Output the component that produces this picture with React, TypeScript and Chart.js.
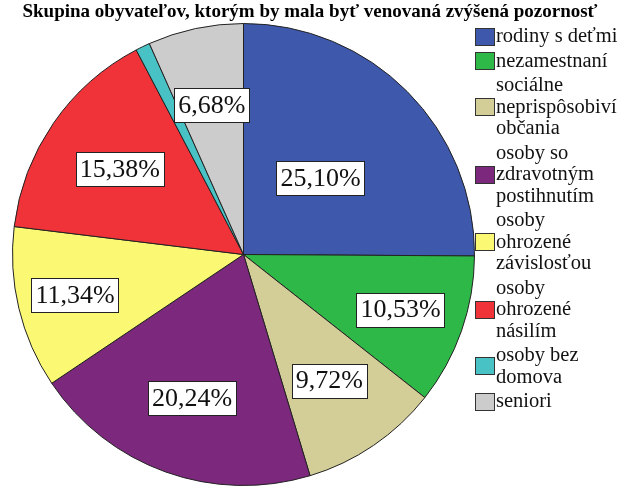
import React, { useEffect, useRef } from "react";
import { Chart, registerables } from "chart.js";

Chart.register(...registerables);

const TITLE = "Skupina obyvateľov, ktorým by mala byť venovaná zvýšená pozornosť";

const categories: string[][] = [
  ["rodiny s deťmi"],
  ["nezamestnaní"],
  ["sociálne", "neprispôsobiví", "občania"],
  ["osoby so", "zdravotným", "postihnutím"],
  ["osoby", "ohrozené", "závislosťou"],
  ["osoby", "ohrozené", "násilím"],
  ["osoby bez", "domova"],
  ["seniori"],
];

const percentages: number[] = [25.1, 10.53, 9.72, 20.24, 11.34, 15.38, 1.01, 6.68];

const sliceColors: string[] = [
  "#3E58AC",
  "#2EB848",
  "#D3CE97",
  "#7C287D",
  "#FBF873",
  "#EF3338",
  "#48C2C5",
  "#CCCCCC",
];

// radial placement of the percentage boxes (fraction of the radius)
const labelRadius: number[] = [0.47, 0.72, 0.66, 0.66, 0.75, 0.65, 0.66, 0.66];

const SERIF = '"Liberation Serif", "Times New Roman", serif';

const fmt = (v: number) => v.toFixed(2).replace(".", ",") + "%";

const decorPlugin = {
  id: "decor",
  afterDatasetsDraw(chart: any) {
    const ctx = chart.ctx as CanvasRenderingContext2D;
    const meta = chart.getDatasetMeta(0);
    const data = chart.data.datasets[0].data as number[];
    // percentage boxes
    ctx.save();
    ctx.font = `26px ${SERIF}`;
    ctx.textAlign = "center";
    ctx.textBaseline = "middle";
    meta.data.forEach((arc: any, i: number) => {
      if (data[i] < 2) return;
      const p = arc.getProps(["x", "y", "startAngle", "endAngle", "outerRadius"], true);
      const mid = (p.startAngle + p.endAngle) / 2;
      const r = p.outerRadius * labelRadius[i];
      const cx = p.x + Math.cos(mid) * r;
      const cy = p.y + Math.sin(mid) * r;
      const txt = fmt(data[i]);
      const w = ctx.measureText(txt).width + 8;
      const h = 34;
      const bx = Math.round(cx - w / 2) + 0.5;
      const by = Math.round(cy - h / 2) + 0.5;
      ctx.fillStyle = "#FFFFFF";
      ctx.fillRect(bx, by, Math.round(w), h);
      ctx.strokeStyle = "#222222";
      ctx.lineWidth = 1;
      ctx.strokeRect(bx, by, Math.round(w), h);
      ctx.fillStyle = "#111111";
      ctx.fillText(txt, cx, cy + 1);
    });
    ctx.restore();

    // title
    ctx.save();
    ctx.font = `bold 19px ${SERIF}`;
    ctx.textAlign = "center";
    ctx.textBaseline = "middle";
    ctx.fillStyle = "#000000";
    ctx.fillText(TITLE, 310, 12);
    ctx.restore();

    // legend
    ctx.save();
    ctx.font = `20.5px ${SERIF}`;
    ctx.textAlign = "left";
    ctx.textBaseline = "middle";
    const lineH = 21.5;
    const gap = 3;
    let y = 36 - lineH / 2;
    const labels = chart.data.labels as string[][];
    labels.forEach((lines, i) => {
      const itemH = lines.length * lineH;
      const sy = y + itemH / 2;
      ctx.fillStyle = sliceColors[i];
      ctx.fillRect(475.5, Math.round(sy - 8.5) + 0.5, 19, 17);
      ctx.strokeStyle = "#333333";
      ctx.lineWidth = 1;
      ctx.strokeRect(475.5, Math.round(sy - 8.5) + 0.5, 19, 17);
      ctx.fillStyle = "#111111";
      lines.forEach((ln, j) => {
        ctx.fillText(ln, 496, y + lineH * j + lineH / 2 + 1);
      });
      y += itemH + gap;
    });
    ctx.restore();
  },
};

export default function App() {
  const ref = useRef<HTMLCanvasElement | null>(null);
  useEffect(() => {
    if (!ref.current) return;
    const chart = new Chart(ref.current, {
      type: "pie",
      data: {
        labels: categories as any,
        datasets: [
          {
            data: percentages,
            backgroundColor: sliceColors,
            borderColor: "#222222",
            borderWidth: 1,
          },
        ],
      },
      options: {
        responsive: false,
        animation: false,
        layout: { padding: { left: 12, right: 146, top: 23, bottom: 0 } },
        plugins: {
          legend: { display: false },
          title: { display: false },
          tooltip: { enabled: false },
        },
      },
      plugins: [decorPlugin],
    });
    return () => {
      chart.destroy();
    };
  }, []);
  return (
    <div style={{ position: "fixed", left: 0, top: 0, width: 621, height: 486, background: "#fff" }}>
      <canvas ref={ref} width={621} height={486} style={{ width: 621, height: 486, display: "block" }} />
    </div>
  );
}
